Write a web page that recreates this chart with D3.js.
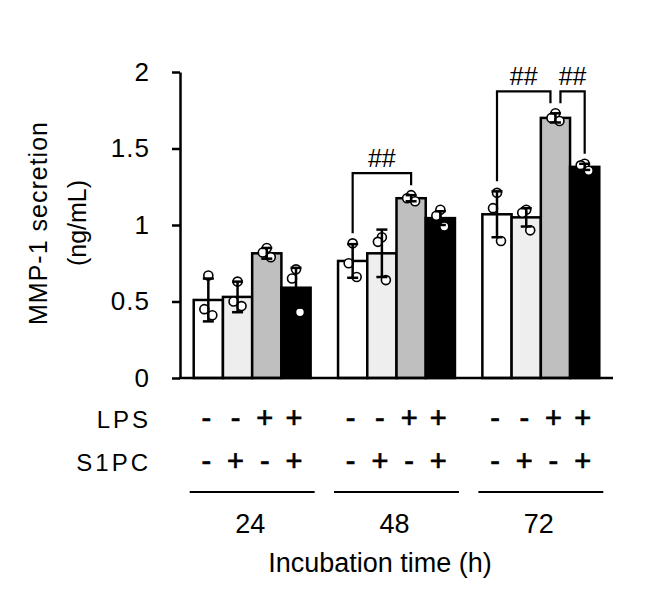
<!DOCTYPE html>
<html>
<head>
<meta charset="utf-8">
<script src="https://cdn.jsdelivr.net/npm/d3@7"></script>
<style>
  body { margin: 0; background: #ffffff; }
  text { font-family: "Liberation Sans", Arial, sans-serif; fill: #000; }
</style>
</head>
<body>
<script>
// ---------------- data ----------------
const times = ["24", "48", "72"];
const conditions = ["Control", "S1PC", "LPS", "LPS+S1PC"];
const lpsSigns = ["-", "-", "+", "+"];
const s1pcSigns = ["-", "+", "-", "+"];

const means = [
  [0.51, 0.53, 0.815, 0.59],   // 24 h
  [0.765, 0.815, 1.175, 1.045],// 48 h
  [1.07, 1.05, 1.70, 1.38]     // 72 h
];
const sds = [
  [0.14, 0.10, 0.035, 0.13],
  [0.11, 0.155, 0.02, 0.045],
  [0.15, 0.06, 0.03, 0.02]
];
const points = [
  [[0.67, 0.45, 0.41], [0.63, 0.50, 0.47], [0.85, 0.82, 0.79], [0.71, 0.65, 0.43]],
  [[0.88, 0.75, 0.66], [0.92, 0.89, 0.64], [1.195, 1.175, 1.155], [1.10, 1.06, 0.99]],
  [[1.21, 1.11, 0.895], [1.10, 1.08, 0.965], [1.73, 1.70, 1.68], [1.40, 1.39, 1.355]]
];
const yTicks = [0, 0.5, 1, 1.5, 2];
const yTickLabels = ["0", "0.5", "1", "1.5", "2"];
const brackets = [
  { time: "48", from: 0, to: 2, label: "##" },
  { time: "72", from: 0, to: 2, label: "##" },
  { time: "72", from: 2, to: 3, label: "##" }
];
const yTitle = ["MMP-1 secretion", "(ng/mL)"];
const xTitle = "Incubation time (h)";
const rowLabels = ["LPS", "S1PC"];

// ---------------- styles ----------------
const fills = ["#ffffff", "#eeeeee", "#bfbfbf", "#000000"];
const jitter = [0, -4, 4];

// ---------------- chart ----------------
const W = 652, H = 592;
const svg = d3.select("body").append("svg").attr("width", W).attr("height", H);

const x0 = d3.scaleBand().domain(times).range([180, 613]).paddingInner(0.19).paddingOuter(0.095);
const x1 = d3.scaleBand().domain(d3.range(conditions.length)).range([0, x0.bandwidth()]);
const y = d3.scaleLinear().domain([0, 2]).range([378, 72]);

const barCenter = (ti, ci) => x0(times[ti]) + x1(ci) + x1.bandwidth() / 2;

// bars
const rows = [];
times.forEach((t, ti) => conditions.forEach((c, ci) => rows.push({ ti, ci, m: means[ti][ci], sd: sds[ti][ci], pts: points[ti][ci] })));

svg.append("g").selectAll("rect").data(rows).join("rect")
  .attr("x", d => x0(times[d.ti]) + x1(d.ci))
  .attr("y", d => y(d.m))
  .attr("width", x1.bandwidth())
  .attr("height", d => y(0) - y(d.m))
  .attr("fill", d => fills[d.ci])
  .attr("stroke", "#000")
  .attr("stroke-width", 2.5);

// points
const ptRows = [];
rows.forEach(r => r.pts.forEach((p, k) => ptRows.push({ ti: r.ti, ci: r.ci, v: p, k })));
svg.append("g").selectAll("circle").data(ptRows).join("circle")
  .attr("cx", d => barCenter(d.ti, d.ci) + jitter[d.k])
  .attr("cy", d => y(d.v))
  .attr("r", 4.5)
  .attr("fill", "#fff")
  .attr("stroke", "#000")
  .attr("stroke-width", 1.6);

// error bars
const eb = svg.append("g").attr("stroke", "#000").attr("stroke-width", 2.5);
rows.forEach(r => {
  const cx = barCenter(r.ti, r.ci);
  const y1 = y(r.m + r.sd), y2 = y(r.m - r.sd);
  eb.append("line").attr("x1", cx).attr("x2", cx).attr("y1", y1).attr("y2", y2);
  eb.append("line").attr("x1", cx - 5.5).attr("x2", cx + 5.5).attr("y1", y1).attr("y2", y1);
  eb.append("line").attr("x1", cx - 5.5).attr("x2", cx + 5.5).attr("y1", y2).attr("y2", y2);
});

// y axis
const yAxis = d3.axisLeft(y).tickValues(yTicks).tickFormat((d, i) => yTickLabels[i])
  .tickSize(8).tickSizeOuter(0).tickPadding(22);
const ga = svg.append("g").attr("transform", "translate(180,0)").call(yAxis);
ga.select(".domain").attr("stroke-width", 2.5);
ga.selectAll(".tick line").attr("stroke-width", 2.5);
ga.selectAll(".tick text").attr("font-size", 26).attr("font-family", "Liberation Sans, Arial, sans-serif").attr("letter-spacing", 1);

// x baseline
svg.append("line").attr("x1", 179).attr("x2", 613).attr("y1", y(0)).attr("y2", y(0))
  .attr("stroke", "#000").attr("stroke-width", 2.5);

// brackets
const topOf = (ti, ci) => y(Math.max(means[ti][ci] + sds[ti][ci], d3.max(points[ti][ci]))) - 10;
const bg = svg.append("g");
times.forEach((t, ti) => {
  const bs = brackets.filter(b => b.time === t);
  if (!bs.length) return;
  const legs = [];
  bs.forEach(b => { legs.push(topOf(ti, b.from)); legs.push(topOf(ti, b.to)); });
  const top = d3.min(legs) - 12;
  bs.forEach(b => {
    const shared = idx => bs.filter(o => o !== b && (o.from === idx || o.to === idx)).length > 0;
    const xa = barCenter(ti, b.from) + (shared(b.from) ? 5 : 0);
    const xb = barCenter(ti, b.to) - (shared(b.to) ? 5 : 0);
    bg.append("path")
      .attr("d", `M${xa},${topOf(ti, b.from)}V${top}H${xb}V${topOf(ti, b.to)}`)
      .attr("fill", "none").attr("stroke", "#000").attr("stroke-width", 2.2);
    bg.append("text").attr("x", (xa + xb) / 2).attr("y", top - 6)
      .attr("text-anchor", "middle").attr("font-size", 25).text(b.label);
  });
});

// treatment table
const rowY = [428, 471];
const tbl = svg.append("g");
rowLabels.forEach((lab, ri) => {
  tbl.append("text").attr("x", 151).attr("y", rowY[ri]).attr("text-anchor", "end")
    .attr("font-size", 24).attr("letter-spacing", 3).text(lab);
  const signs = ri === 0 ? lpsSigns : s1pcSigns;
  times.forEach((t, ti) => {
    signs.forEach((s, ci) => {
      tbl.append("text").attr("x", barCenter(ti, ci) - 2).attr("y", rowY[ri])
        .attr("text-anchor", "middle").attr("font-size", 29)
        .attr("stroke", "#000").attr("stroke-width", 0.7).text(s);
    });
  });
});
times.forEach(t => {
  tbl.append("line").attr("x1", x0(t) - 4).attr("x2", x0(t) + x0.bandwidth() + 4)
    .attr("y1", 492).attr("y2", 492).attr("stroke", "#000").attr("stroke-width", 2);
  tbl.append("text").attr("x", x0(t) + x0.bandwidth() / 2 - 2).attr("y", 533)
    .attr("text-anchor", "middle").attr("font-size", 27).text(t);
});
svg.append("text").attr("x", 380).attr("y", 572).attr("text-anchor", "middle")
  .attr("font-size", 27).text(xTitle);

// y title
const yt = svg.append("g").attr("transform", "translate(47,223) rotate(-90)");
yt.append("text").attr("x", 0).attr("y", 0).attr("text-anchor", "middle")
  .attr("font-size", 25).attr("letter-spacing", 1).text(yTitle[0]);
yt.append("text").attr("x", 0).attr("y", 39).attr("text-anchor", "middle")
  .attr("font-size", 25).text(yTitle[1]);
</script>
</body>
</html>
